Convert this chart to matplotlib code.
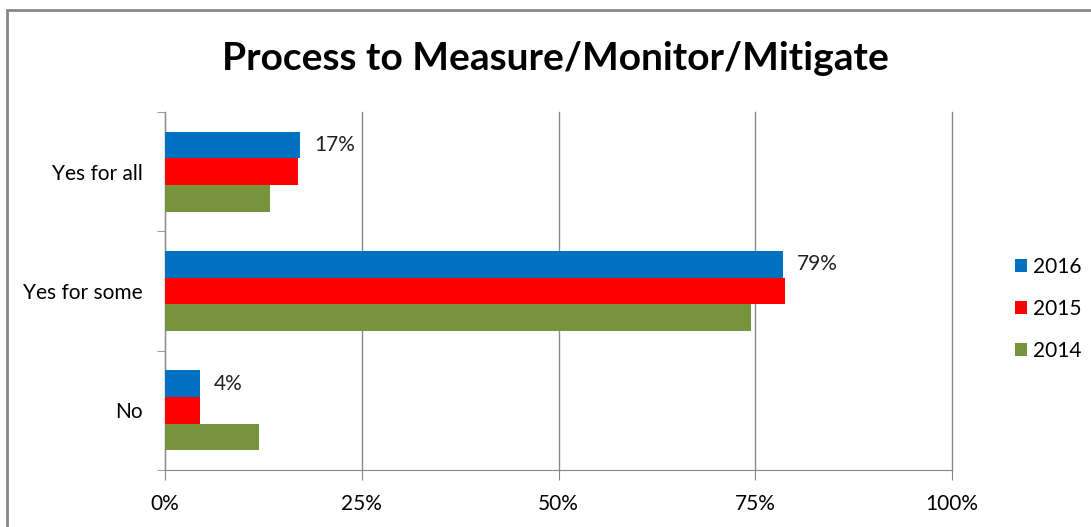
import matplotlib.pyplot as plt
import numpy as np
from matplotlib.patches import Rectangle
from matplotlib.ticker import FuncFormatter

categories = ["Yes for all", "Yes for some", "No"]
years = ["2016", "2015", "2014"]
values_2016 = [17.2, 78.5, 4.4]
values_2015 = [16.9, 78.8, 4.5]
values_2014 = [13.4, 74.5, 12.0]
labels_2016 = ["17%", "79%", "4%"]
colors = ["#0070C0", "#FF0000", "#77933C"]

plt.rcParams["font.family"] = ["Lato", "DejaVu Sans"]

fig = plt.figure(figsize=(10.91, 5.27), dpi=100)
ax = fig.add_axes([165 / 1091, 1 - 470 / 527, 787 / 1091, 358 / 527])

y = np.arange(len(categories))
h = 0.224
series = [values_2016, values_2015, values_2014]
for i, (vals, year, c) in enumerate(zip(series, years, colors)):
    ax.barh(y + (i - 1) * h, vals, height=h, color=c, label=year, zorder=3)

for yi, v, lab in zip(y, values_2016, labels_2016):
    ax.annotate(lab, (v, yi - h), xytext=(10, 0), textcoords="offset points",
                va="center", ha="left", fontsize=15, color="#222222")

ax.set_xlim(0, 100)
ax.set_ylim(2.5, -0.5)
ax.set_xticks([0, 25, 50, 75, 100])
ax.xaxis.set_major_formatter(FuncFormatter(lambda v, p: f"{v:.0f}%"))
ax.set_yticks(y)
ax.set_yticklabels(categories)
ax.set_yticks([-0.5, 0.5, 1.5, 2.5], minor=True)
ax.tick_params(axis="y", which="major", length=0, pad=16, labelsize=15)
ax.tick_params(axis="y", which="minor", length=6, color="#888888")
ax.tick_params(axis="x", length=7, color="#888888", pad=10, labelsize=15)
ax.grid(axis="x", color="#888888", linewidth=1, zorder=0)
for gl in ax.get_xgridlines():
    gl.set_clip_on(False)

for s in ["top", "right"]:
    ax.spines[s].set_visible(False)
for s in ["left", "bottom"]:
    ax.spines[s].set_color("#888888")

fig.text(555 / 1091, 1 - 58 / 527, "Process to Measure/Monitor/Mitigate",
         ha="center", va="center", fontsize=28, fontweight="bold")

fig.legend(loc="center left", bbox_to_anchor=(996 / 1091, 1 - 309 / 527),
           frameon=False, fontsize=15, handlelength=0.6, handleheight=0.6,
           handletextpad=0.3, labelspacing=1.05)

fig.patches.append(Rectangle((7 / 1091, -0.1), 1.2, 1.1 - 10 / 527,
                             transform=fig.transFigure, fill=False,
                             edgecolor="#888888", linewidth=2))

fig.savefig("out.png", dpi=100)
